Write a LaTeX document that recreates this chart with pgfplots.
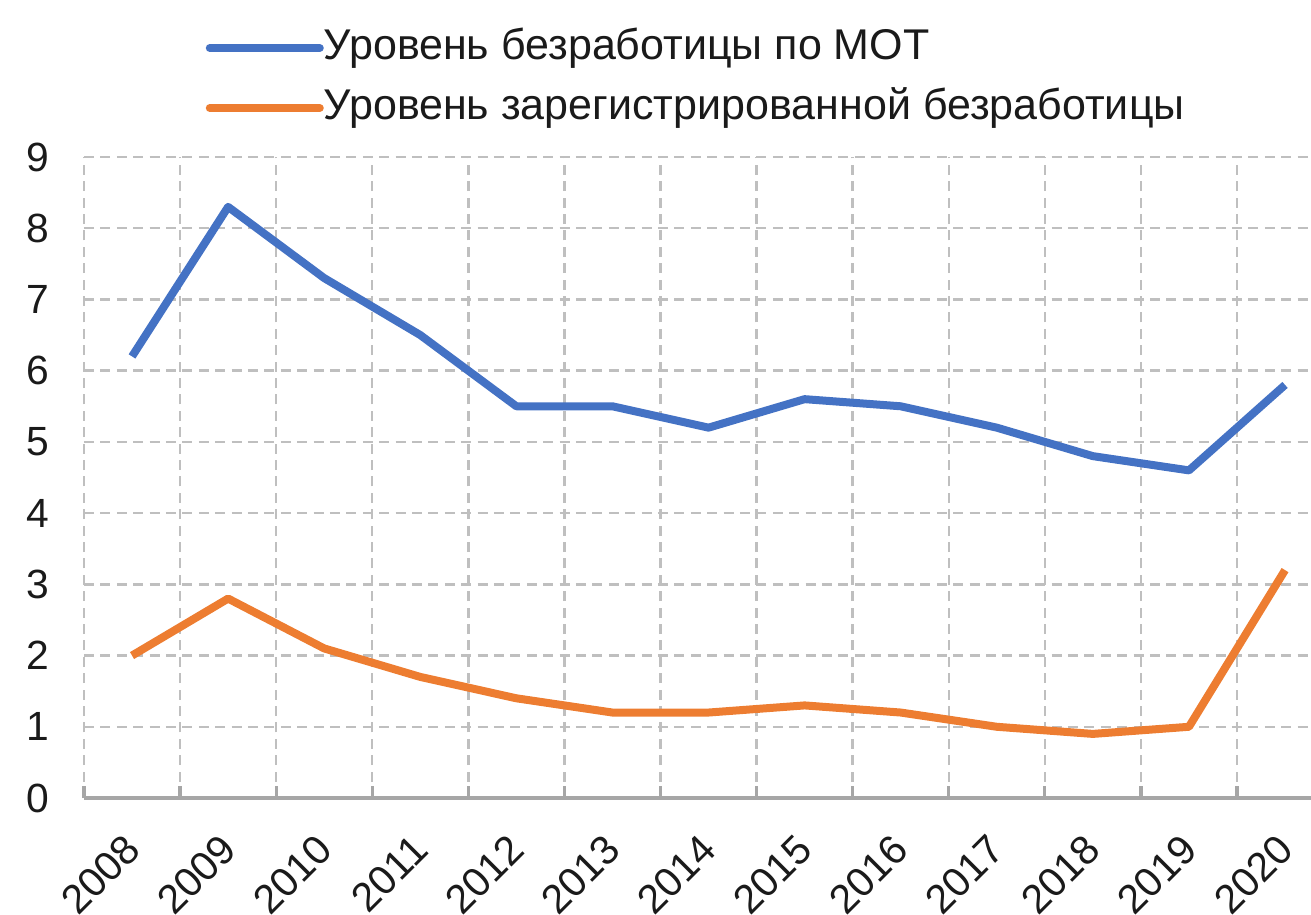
\documentclass[border=0pt]{standalone}
\usepackage{fontspec}
\setmainfont{Liberation Sans}
\usepackage{pgfplots}
\pgfplotsset{compat=1.18}
\definecolor{cblue}{HTML}{4472C4}
\definecolor{corange}{HTML}{ED7D31}
\definecolor{cgrid}{HTML}{BFBFBF}
\definecolor{caxis}{HTML}{A6A6A6}
\definecolor{ctext}{HTML}{1A1A1A}
\begin{document}
\begin{tikzpicture}
\begin{axis}[
  scale only axis,
  width=306.75pt, height=160.25pt,
  xmin=-0.5, xmax=12.27,
  ymin=0, ymax=9,
  axis x line=bottom, axis y line=left,
  x axis line style={-, draw=caxis, line width=1pt},
  y axis line style={draw=none},
  xtick={-0.5,0.5,...,12.5},
  xticklabels={},
  xtick style={draw=caxis, line width=0.8pt},
  xtick align=inside,
  major tick length=3pt,
  extra x ticks={0,1,2,3,4,5,6,7,8,9,10,11,12},
  extra x tick labels={2008,2009,2010,2011,2012,2013,2014,2015,2016,2017,2018,2019,2020},
  extra x tick style={grid=none, major tick length=0pt,
     tick label style={xshift=-2.5pt, yshift=-3.5pt, rotate=45, anchor=north east}},
  ytick={0,1,...,9},
  ytick style={draw=none},
  yticklabel style={anchor=east, xshift=-3.75pt},
  /pgf/number format/assume math mode=true,
  tick label style={font=\fontsize{10.2}{12}\selectfont, text=ctext},
  xmajorgrids, ymajorgrids,
  major grid style={draw=cgrid, dash pattern=on 2.5pt off 1.6pt, line width=0.6pt},
  clip=false,
  legend style={draw=none, fill=none, at={(axis description cs:0.0986,1.204)}, anchor=north west,
    font=\fontsize{10.75}{13}\selectfont, text=ctext, inner sep=0pt, row sep=4.5pt,
    nodes={inner sep=0pt, text height=8pt, text depth=2.5pt},
    /tikz/every even column/.append style={column sep=1.25pt}},
  legend cell align=left,
  legend image code/.code={\draw[#1, line cap=round] (0pt,0pt) -- (27.5pt,0pt);},
]
\addplot[cblue, line width=2pt, line join=round] coordinates {
 (0,6.2) (1,8.3) (2,7.3) (3,6.5) (4,5.5) (5,5.5) (6,5.2) (7,5.6) (8,5.5) (9,5.2) (10,4.8) (11,4.6) (12,5.8)};
\addlegendentry{Уровень безработицы по МОТ}
\addplot[corange, line width=2pt, line join=round] coordinates {
 (0,2.0) (1,2.8) (2,2.1) (3,1.7) (4,1.4) (5,1.2) (6,1.2) (7,1.3) (8,1.2) (9,1.0) (10,0.9) (11,1.0) (12,3.2)};
\addlegendentry{Уровень зарегистрированной безработицы}
\coordinate (sw) at (rel axis cs:0,0);
\end{axis}
\pgfresetboundingbox
\path[use as bounding box] (sw) ++(-21pt,-29pt) rectangle ++(327.75pt,228.5pt);
\end{tikzpicture}
\end{document}
